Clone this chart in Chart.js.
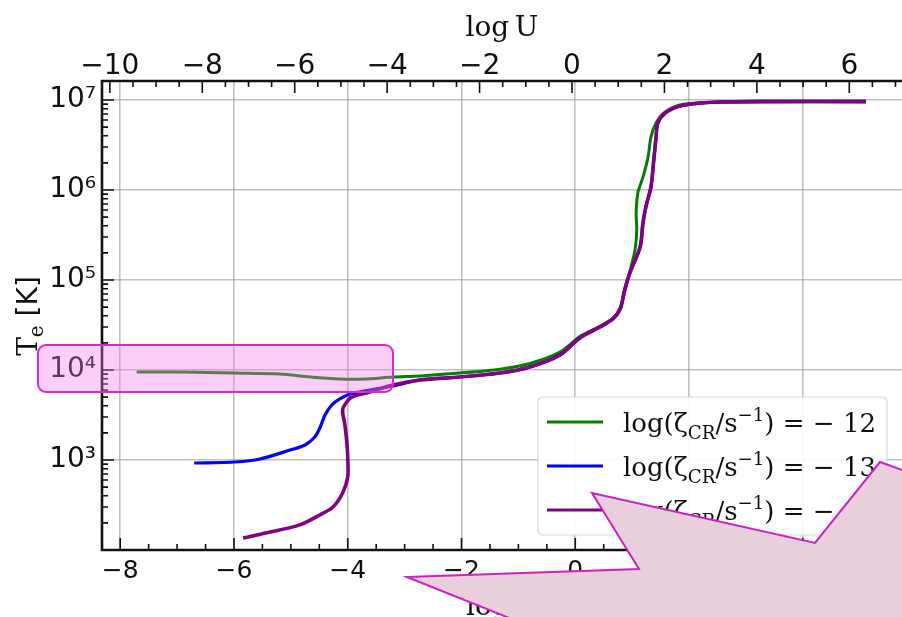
<!DOCTYPE html>
<html>
<head>
<meta charset="utf-8">
<script src="https://cdn.jsdelivr.net/npm/chart.js@4.4.1/dist/chart.umd.min.js"></script>
<style>
  html, body { margin: 0; padding: 0; background: #fff; overflow: hidden; }
  #wrap { width: 920px; height: 617px; }
</style>
</head>
<body>
<div id="wrap"><canvas id="teChart" width="920" height="617"></canvas></div>
<script>
// electron temperature curves; x in bottom-axis units, T in K
const greenX = [-7.71, -6.95, -5.98, -5.19, -4.66, -4.14, -3.70, -3.21, -2.73, -2.03, -1.32, -0.80, -0.27, 0.08, 0.43, 0.66, 0.79, 0.87, 0.96, 1.05, 1.08, 1.07, 1.10, 1.19, 1.28, 1.33, 1.42, 1.58, 1.84, 2.19, 2.54, 3.25, 5.11];
const greenT = [9500, 9500, 9260, 9030, 8360, 7940, 7940, 8360, 8600, 9250, 10200, 11800, 15800, 23500, 30500, 37500, 49000, 80000, 125000, 215000, 359000, 555000, 927000, 1.39e6, 2.33e6, 3.88e6, 5.55e6, 7.36e6, 8.8e6, 9.26e6, 9.5e6, 9.75e6, 9.75e6];

const blueX = [-6.70, -5.98, -5.54, -5.01, -4.75, -4.58, -4.49, -4.40, -4.28, -4.14, -3.96, -3.61, -3.21, -2.73, -2.03, -1.32, -0.80, -0.27, 0.08, 0.43, 0.66, 0.79, 0.87, 0.96, 1.14, 1.19, 1.24, 1.33, 1.38, 1.42, 1.45, 1.58, 1.84, 2.19, 2.54, 3.25, 5.11];
const blueT = [926, 950, 1026, 1292, 1468, 1802, 2268, 3162, 4084, 4764, 5412, 5995, 6640, 7740, 8360, 9260, 10790, 14680, 22700, 30000, 36900, 47600, 77400, 119700, 233000, 430000, 647000, 1.08e6, 2.15e6, 3.88e6, 5.55e6, 7.17e6, 8.58e6, 9.26e6, 9.5e6, 9.6e6, 9.6e6];

const purpleX = [-5.84, -5.42, -4.84, -4.49, -4.26, -4.09, -4.00, -4.00, -4.02, -4.05, -4.09, -4.03, -3.93, -3.61, -3.21, -2.73, -2.03, -1.32, -0.80, -0.27, 0.08, 0.43, 0.66, 0.79, 0.87, 0.96, 1.14, 1.19, 1.24, 1.33, 1.38, 1.42, 1.45, 1.58, 1.84, 2.19, 2.54, 3.25, 5.11];
const purpleT = [136, 155, 190, 245, 300, 430, 647, 1080, 1668, 2448, 3594, 4300, 5012, 5700, 6810, 7740, 8360, 9260, 10790, 14680, 22700, 30000, 36900, 47600, 77400, 119700, 233000, 430000, 647000, 1.08e6, 2.15e6, 3.88e6, 5.55e6, 7.17e6, 8.58e6, 9.26e6, 9.5e6, 9.6e6, 9.6e6];

const zetaLogs = [-12, -13, -14];
const bottomTicks = [-8, -6, -4, -2, 0, 2, 4, 6];
const topTicks = [-10, -8, -6, -4, -2, 0, 2, 4, 6];
const tempTicks = [1e3, 1e4, 1e5, 1e6, 1e7];

const SANS = "'DejaVu Sans'";
const SERIF = "'DejaVu Serif'";
const SUP = { '0': '\u2070', '1': '\u00b9', '2': '\u00b2', '3': '\u00b3', '4': '\u2074', '5': '\u2075', '6': '\u2076', '7': '\u2077', '8': '\u2078', '9': '\u2079' };

function minusLabel(v) {
    return v < 0 ? '\u2212' + Math.abs(v) : String(v);
}

function powerLabel(v) {
    const e = String(Math.round(Math.log10(v)));
    return '10' + e.split('').map(c => SUP[c]).join('');
}

function pairs(xs, ts) {
    return xs.map((x, i) => ({ x: x, y: ts[i] }));
}

function seriesLabel(z) {
    return 'log(\u03b6CR/s\u207b\u00b9) = \u2212' + Math.abs(z);
}

// writes log(zeta_CR / s^-1) = value with sub/superscripts
function drawZetaLabel(ctx, x, y, z, size) {
    const parts = [
        ['log(\u03b6', size, 0],
        ['CR', size * 0.7, size * 0.25],
        ['/s', size, 0],
        ['\u22121', size * 0.7, -size * 0.42],
        [') = \u2212 ' + Math.abs(z), size, 0]
    ];
    let cx = x;
    for (const [t, s, dy] of parts) {
        ctx.font = s + 'px ' + SERIF;
        ctx.fillText(t, cx, y + dy);
        cx += ctx.measureText(t).width;
    }
}

// no overhang padding, so the plot box stays where the sizes put it
function noOverhang(s) {
    s.paddingLeft = 0; s.paddingRight = 0; s.paddingTop = 0; s.paddingBottom = 0;
}

// inward tick marks, spines, titles and the legend box
const framePlugin = {
    id: 'frame',
    afterDatasetsDraw(chart) {
        const ctx = chart.ctx;
        const a = chart.chartArea;
        const sx = chart.scales.x, sx2 = chart.scales.x2, sy = chart.scales.y;
        ctx.save();
        ctx.strokeStyle = '#111';
        ctx.lineWidth = 1.6;

        ctx.beginPath();
        for (let v = -8; v <= sx.max; v += 0.5) {
            const px = sx.getPixelForValue(v);
            const len = bottomTicks.includes(v) ? 12 : 6;
            ctx.moveTo(px, a.bottom); ctx.lineTo(px, a.bottom - len);
        }
        for (let v = -10; v <= sx2.max; v += 0.5) {
            const px = sx2.getPixelForValue(v);
            const len = topTicks.includes(v) ? 12 : 6;
            ctx.moveTo(px, a.top); ctx.lineTo(px, a.top + len);
        }
        for (let k = 2; k <= 7; k++) {
            for (let m = 1; m <= 9; m++) {
                const v = m * Math.pow(10, k);
                if (v > sy.max) continue;
                const py = sy.getPixelForValue(v);
                const len = m === 1 ? 12 : 6;
                ctx.moveTo(a.left, py); ctx.lineTo(a.left + len, py);
            }
        }
        ctx.stroke();

        // spines
        ctx.lineWidth = 2.6;
        ctx.beginPath();
        ctx.moveTo(a.right, a.top); ctx.lineTo(a.left, a.top);
        ctx.lineTo(a.left, a.bottom); ctx.lineTo(a.right, a.bottom);
        ctx.stroke();

        // axis titles
        ctx.fillStyle = '#111';
        ctx.textBaseline = 'alphabetic';
        ctx.textAlign = 'center';
        ctx.font = '28px ' + SERIF;
        ctx.fillText('log\u2009U', 502, 36);
        ctx.textAlign = 'left';
        ctx.fillText('log\u2009n', 466, 615);

        ctx.save();
        ctx.translate(37, 316);
        ctx.rotate(-Math.PI / 2);
        const yParts = [['T', '28px ' + SERIF, 0], ['e', '20px ' + SERIF, 6], [' [K]', '28px ' + SANS, 0]];
        let w = 0;
        for (const p of yParts) { ctx.font = p[1]; w += ctx.measureText(p[0]).width; }
        let cx = -w / 2;
        for (const p of yParts) {
            ctx.font = p[1];
            ctx.fillText(p[0], cx, p[2]);
            cx += ctx.measureText(p[0]).width;
        }
        ctx.restore();

        // legend
        ctx.fillStyle = 'rgba(255,255,255,0.92)';
        ctx.strokeStyle = '#d8d8d8';
        ctx.lineWidth = 1.2;
        ctx.beginPath();
        ctx.roundRect(538, 397, 349, 138, 5);
        ctx.fill(); ctx.stroke();
        chart.data.datasets.forEach((ds, i) => {
            const rowY = 422 + i * 44;
            ctx.strokeStyle = ds.borderColor;
            ctx.lineWidth = 3;
            ctx.beginPath();
            ctx.moveTo(547, rowY); ctx.lineTo(603, rowY);
            ctx.stroke();
            ctx.fillStyle = '#111';
            drawZetaLabel(ctx, 623, rowY + 10, zetaLogs[i], 26);
        });
        ctx.restore();
    },
    afterDraw(chart) {
        const ctx = chart.ctx;
        ctx.save();
        // highlight box
        ctx.fillStyle = 'rgba(240,120,230,0.36)';
        ctx.strokeStyle = '#d030c8';
        ctx.lineWidth = 2;
        ctx.beginPath();
        ctx.roundRect(38, 345, 355, 47, 8);
        ctx.fill(); ctx.stroke();

        // burst shape
        ctx.fillStyle = '#e9cfdb';
        ctx.strokeStyle = '#cc22c0';
        ctx.beginPath();
        ctx.moveTo(407, 577);
        ctx.lineTo(639, 569);
        ctx.lineTo(592, 493);
        ctx.lineTo(815, 543);
        ctx.lineTo(880, 462);
        ctx.lineTo(960, 491);
        ctx.lineTo(960, 700);
        ctx.lineTo(714, 700);
        ctx.closePath();
        ctx.fill(); ctx.stroke();
        ctx.restore();
    }
};

const gridStyle = { color: 'rgba(150,150,150,0.6)', lineWidth: 1.6, drawTicks: false };

new Chart(document.getElementById('teChart'), {
    type: 'line',
    data: {
        datasets: [
            { label: seriesLabel(zetaLogs[0]), data: pairs(greenX, greenT), borderColor: 'green', borderWidth: 3, order: 3 },
            { label: seriesLabel(zetaLogs[1]), data: pairs(blueX, blueT), borderColor: 'blue', borderWidth: 3.2, order: 2 },
            { label: seriesLabel(zetaLogs[2]), data: pairs(purpleX, purpleT), borderColor: 'purple', borderWidth: 3.6, order: 1 }
        ].map(ds => Object.assign(ds, { pointRadius: 0, tension: 0.28, fill: false }))
    },
    options: {
        responsive: false,
        animation: false,
        devicePixelRatio: 1,
        layout: { padding: 0 },
        plugins: { legend: { display: false }, tooltip: { enabled: false } },
        scales: {
            x: {
                type: 'linear', position: 'bottom', min: -8.32, max: 6.06,
                afterBuildTicks: s => { s.ticks = bottomTicks.map(v => ({ value: v })); },
                afterFit: s => { s.height = 67; noOverhang(s); },
                ticks: { callback: minusLabel, color: '#111', font: { family: SANS, size: 25 }, padding: 6, maxRotation: 0, autoSkip: false },
                grid: gridStyle,
                border: { display: false }
            },
            x2: {
                type: 'linear', position: 'top', display: true, min: -10.17, max: 7.53,
                afterBuildTicks: s => { s.ticks = topTicks.map(v => ({ value: v })); },
                afterFit: s => { s.height = 81; noOverhang(s); },
                ticks: { callback: minusLabel, color: '#111', font: { family: SANS, size: 28 }, padding: -3, maxRotation: 0, autoSkip: false },
                grid: { display: false, drawTicks: false },
                border: { display: false }
            },
            y: {
                type: 'logarithmic', min: 100, max: 1.626e7,
                afterBuildTicks: s => { s.ticks = tempTicks.map(v => ({ value: v })); },
                afterFit: s => { s.width = 102; noOverhang(s); },
                ticks: { callback: powerLabel, color: '#111', font: { family: SANS, size: 28 }, padding: 6, autoSkip: false },
                grid: gridStyle,
                border: { display: false }
            }
        }
    },
    plugins: [framePlugin]
});
</script>
</body>
</html>
